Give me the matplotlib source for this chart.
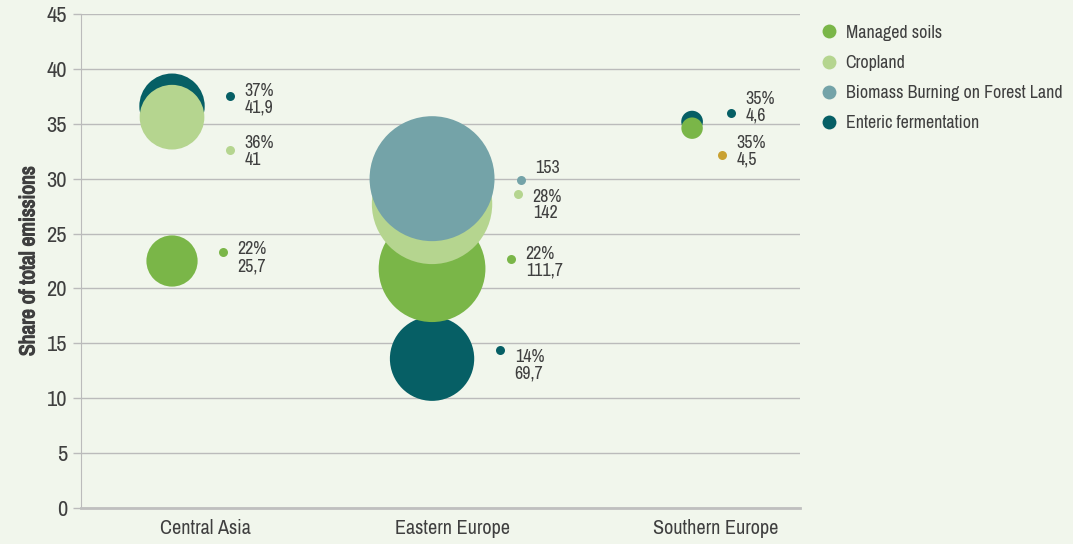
import numpy as np
import matplotlib.pyplot as plt
from matplotlib import font_manager
from matplotlib import patheffects
from matplotlib.lines import Line2D

# data
regions = ['Central Asia', 'Eastern Europe', 'Southern Europe']

# share of total emissions (y) and emissions (bubble size)
enteric_share = [36.6, 13.6, 35.2]
enteric_value = [41.9, 69.7, 4.6]
managed_share = [22.5, 21.8, 34.6]
managed_value = [25.7, 111.7, 4.5]
cropland_share = [35.6, 27.7, np.nan]
cropland_value = [41, 142, np.nan]
biomass_share = [np.nan, 30.0, np.nan]
biomass_value = [np.nan, 153, np.nan]

# small annotation dots next to the bubbles
label_region = [0, 0, 0, 1, 1, 1, 1, 2, 2]
label_dx = [0.223, 0.223, 0.196, 0.341, 0.331, 0.304, 0.262, 0.150, 0.115]
label_y = [37.5, 32.6, 23.3, 29.9, 28.6, 22.7, 14.4, 36.0, 32.2]
label_text_y = [37.2, 32.5, 22.8, 31.0, 27.6, 22.4, 13.0, 36.5, 32.5]
label_text = ['37%\n41,9', '36%\n41', '22%\n25,7', '153', '28%\n142',
              '22%\n111,7', '14%\n69,7', '35%\n4,6', '35%\n4,5']
label_kind = ['enteric', 'cropland', 'managed', 'biomass', 'cropland',
              'managed', 'enteric', 'enteric', 'other']

colors = {
    'managed': '#7AB648',
    'cropland': '#B5D58F',
    'biomass': '#74A3A8',
    'enteric': '#065F65',
    'other': '#C9A132',
}
names = {
    'managed': 'Managed soils',
    'cropland': 'Cropland',
    'biomass': 'Biomass Burning on Forest Land',
    'enteric': 'Enteric fermentation',
}

# narrow font if one is installed, otherwise Roboto
installed = sorted({f.name for f in font_manager.fontManager.ttflist})
narrow = [n for n in installed if 'Condensed' in n or 'Narrow' in n]
if narrow:
    family = narrow[0]
    fs = 1.12
else:
    family = 'Roboto'
    fs = 1.0
plt.rcParams['font.family'] = [family, 'DejaVu Sans']
txt = '#3F3F3F'
bg = '#F1F6EC'

fig = plt.figure(figsize=(10.73, 5.44), dpi=100, facecolor=bg)
ax = fig.add_axes([81 / 1073, 36 / 544, 719 / 1073, 494 / 544], facecolor=bg)

x = np.arange(len(regions))
k = 52.9  # marker area per unit of emissions
series = [
    ('enteric', enteric_share, enteric_value),
    ('managed', managed_share, managed_value),
    ('cropland', cropland_share, cropland_value),
    ('biomass', biomass_share, biomass_value),
]
for i, (key, share, val) in enumerate(series):
    ax.scatter(x, share, s=np.array(val, dtype=float) * k, color=colors[key],
               linewidths=0, zorder=3 + i)

for r, dx, y, ty, t, kind in zip(label_region, label_dx, label_y, label_text_y,
                                 label_text, label_kind):
    ax.scatter(r + dx, y, s=42, color=colors[kind], linewidths=0, zorder=8)
    ax.text(r + dx + 0.056, ty, t, fontsize=11.5 * fs, color=txt, va='center',
            ha='left', linespacing=1.05, zorder=9)

ax.set_xlim(-0.35, 2.415)
ax.set_ylim(0, 45)
ax.set_yticks(range(0, 46, 5))
ax.set_xticks([0.13, 1.08, 2.09])
ax.set_xticklabels(regions)
ax.tick_params(axis='x', length=0, labelsize=13 * fs, labelcolor=txt, pad=8)
ax.tick_params(axis='y', length=6, width=1, color='#BBBBBB', labelsize=14.5 * fs,
               labelcolor=txt, pad=4)
ax.grid(axis='y', color='#BBBBBB', linewidth=1)
ax.set_axisbelow(True)
for s in ['top', 'right']:
    ax.spines[s].set_visible(False)
ax.spines['left'].set_color('#BBBBBB')
ax.spines['bottom'].set_color('#BFBFBF')
ax.spines['bottom'].set_linewidth(2)
ylab = ax.set_ylabel('Share of total emissions', fontsize=13.8 * fs,
                     fontweight='bold', color=txt, labelpad=6)
ylab.set_path_effects([patheffects.withStroke(linewidth=0.9, foreground=txt)])

handles = [Line2D([], [], marker='o', linestyle='', markersize=10,
                  markerfacecolor=colors[key], markeredgewidth=0,
                  label=names[key])
           for key in ['managed', 'cropland', 'biomass', 'enteric']]
leg = fig.legend(handles=handles, loc='upper left', bbox_to_anchor=(0.758, 0.968),
                 frameon=False, fontsize=11.5 * fs, labelspacing=0.8,
                 handlelength=1.0, handletextpad=0.4, borderaxespad=0)
for t in leg.get_texts():
    t.set_color(txt)

fig.savefig('out.png', dpi=100, facecolor=bg)
